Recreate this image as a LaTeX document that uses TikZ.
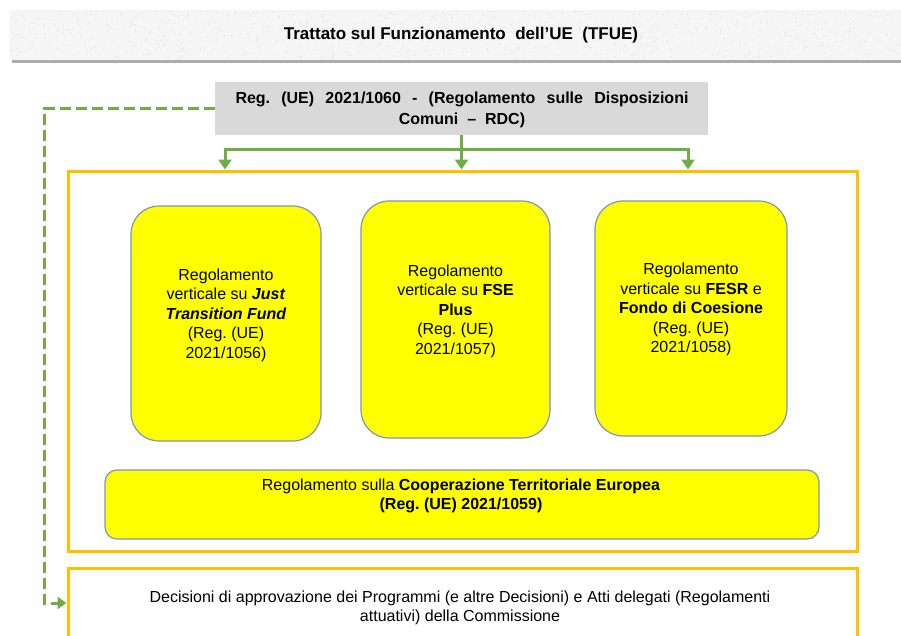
\documentclass[tikz,border=0pt]{standalone}
\usepackage{fontspec}
\setmainfont{Liberation Sans}
\usetikzlibrary{arrows.meta,calc}
\definecolor{ora}{HTML}{FFC000}
\definecolor{grn}{HTML}{70AD47}
\definecolor{ylw}{HTML}{FFFF00}
\definecolor{bbrd}{HTML}{7F95B5}
\definecolor{rdcg}{HTML}{D9D9D9}
\frenchspacing
\begin{document}
\begin{tikzpicture}[x=1pt,y=-1pt,
 ybox/.style={draw=bbrd,line width=1.2pt,fill=ylw,rounded corners=28pt,inner sep=0pt},
 btxt/.style={align=center,font=\fontsize{16}{19.5}\selectfont,inner sep=0pt},
 obox/.style={draw=ora,line width=3pt,inner sep=0pt},
 garrow/.style={draw=grn,line width=3pt,-{Triangle[width=13pt,length=10pt]}},
 gdash/.style={draw=grn,line width=3pt,dash pattern=on 11pt off 5pt,-{Triangle[width=12pt,length=9pt]}}]
\useasboundingbox (0,0) rectangle (901,635);
\clip (0,0) rectangle (901,635);
% banner
\fill[gray!65] (12,13) rectangle (905,63);
\node[fill=gray!8, minimum width=895pt, minimum height=50pt, inner sep=0pt] (tfue) at (457.5,35) {};
\pgfmathsetseed{7}
\foreach \i in {1,...,900}{\fill[gray!40,opacity=0.45] ({11+889*rnd},{11+48*rnd}) circle (0.7);}
\node[font=\bfseries\fontsize{17}{20}\selectfont, inner sep=0pt] (tt) at (tfue.center -| 461,0) {Trattato sul Funzionamento\ \ dell’UE\ \ (TFUE)};
% RDC
\node[fill=rdcg, minimum width=493pt, minimum height=53pt, inner sep=0pt] (rdc) at (461.5,108.5) {};
\node[font=\bfseries\fontsize{16}{21}\selectfont, align=center, inner sep=0pt] (rdct) at (462,110)
 {\makebox[453pt][s]{Reg. (UE) 2021/1060 - (Regolamento sulle Disposizioni}\\Comuni\ \ –\ \ RDC)};
% main orange box
\node[obox, minimum width=789pt, minimum height=380pt] (main) at (462.5,361) {};
% bottom decision box
\node[obox, minimum width=789pt, minimum height=70pt] (dec) at (462.5,603) {};
\node[font=\fontsize{16}{19}\selectfont, align=center, inner sep=0pt] (dect) at (460,607.5)
 {Decisioni di approvazione dei Programmi (e altre Decisioni) e Atti delegati (Regolamenti\\attuativi) della Commissione};
% yellow boxes
\node[ybox, minimum width=190pt, minimum height=235pt] (b1) at (226,323.5) {};
\node[btxt] (t1) at (226,315) {Regolamento\\verticale su \textbf{\textit{Just}}\\\textbf{\textit{Transition Fund}}\\(Reg. (UE)\\2021/1056)};
\node[ybox, minimum width=189pt, minimum height=237pt] (b2) at (455.5,319.5) {};
\node[btxt] (t2) at (455.5,311) {Regolamento\\verticale su \textbf{FSE}\\\textbf{Plus}\\(Reg. (UE)\\2021/1057)};
\node[ybox, minimum width=192pt, minimum height=235pt] (b3) at (691,318.5) {};
\node[btxt] (t3) at (691,309.5) {Regolamento\\verticale su \textbf{FESR} e\\\textbf{Fondo di Coesione}\\(Reg. (UE)\\2021/1058)};
\node[ybox, rounded corners=12pt, minimum width=714pt, minimum height=69pt] (coop) at (462,504.5) {};
\node[btxt, font=\fontsize{16}{18.5}\selectfont] (tc) at (461,496) {Regolamento sulla \textbf{Cooperazione Territoriale Europea}\\\textbf{(Reg. (UE) 2021/1059)}};
% connectors
\coordinate (jl) at (225,149);
\coordinate (jr) at (688,149);
\draw[garrow] (rdc.south) -- (rdc.south |- main.north);
\draw[garrow] (rdc.south) |- (jl) -- (jl |- main.north);
\draw[garrow] (rdc.south) |- (jr) -- (jr |- main.north);
\draw[gdash] (rdc.west) -| (44,603) -- (dec.west);
\end{tikzpicture}
\end{document}
